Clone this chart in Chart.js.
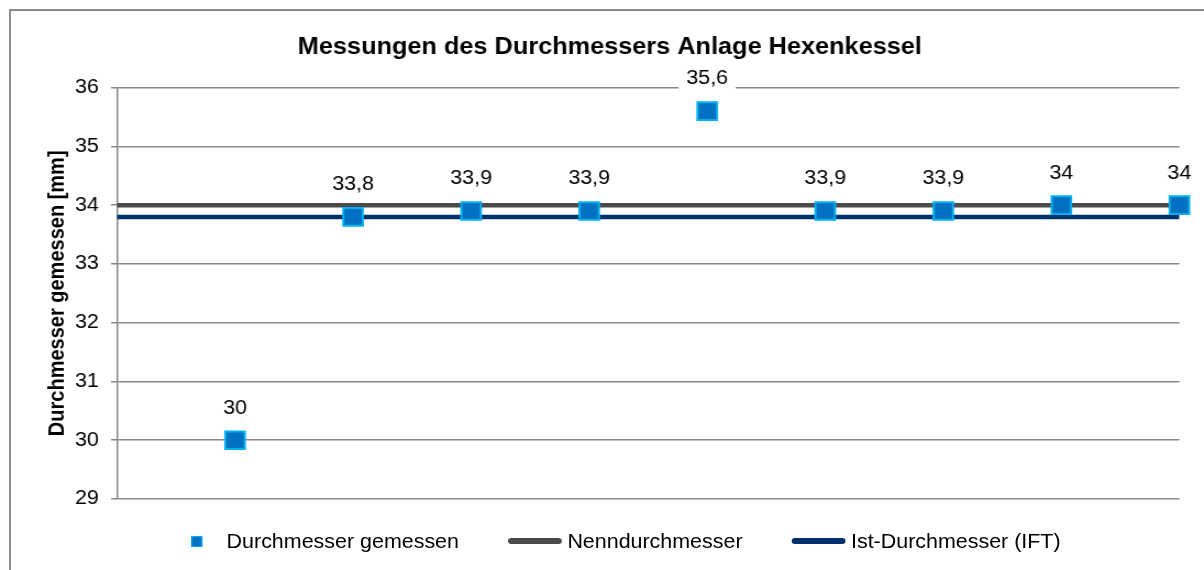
<!DOCTYPE html>
<html lang="de">
<head>
<meta charset="utf-8">
<title>Messungen des Durchmessers Anlage Hexenkessel</title>
<script src="https://cdn.jsdelivr.net/npm/chart.js@4.4.1/dist/chart.umd.min.js"></script>
<style>
  html, body { margin: 0; padding: 0; background: #fff; overflow: hidden; }
  body { width: 1204px; height: 570px; position: relative; font-family: "Liberation Sans", Arial, sans-serif; }
  .frame { position: absolute; left: 9px; top: 9px; width: 1300px; height: 700px; border: 2px solid #8c8c8c; box-sizing: border-box; z-index: 2; }
  /* the original picture is a bit wider than tall, so the whole chart is stretched sideways */
  .stretch { position: absolute; left: 0; top: 0; width: 1095px; height: 570px; transform: scaleX(1.0995); transform-origin: 0 0; }
  .stretch canvas { display: block; }
  .legend { position: absolute; left: 173.6px; top: 529px; height: 24px; display: flex; align-items: center; font-size: 19.5px; line-height: 24px; color: #000; white-space: nowrap; }
  .legend .item { display: flex; align-items: center; }
  .legend .item + .item { margin-left: 45px; }
  .legend .marker { width: 8px; height: 9px; border: 1.5px solid #00b0f0; background: #0070c0; margin-right: 22.5px; }
  .legend .line { width: 49px; height: 6px; border-radius: 3px; margin-right: 4.6px; }
</style>
</head>
<body>
<div class="frame"></div>
<div class="stretch">
  <canvas id="diameterChart"></canvas>
  <div class="legend" id="legend"></div>
</div>
<script>
// Messpunkte (Kategorie 1..9) und Referenzlinien
const categories = [1, 2, 3, 4, 5, 6, 7, 8, 9];
const measured = [30, 33.8, 33.9, 33.9, 35.6, 33.9, 33.9, 34, 34];
const lineSpan = [0, 9];
const nominal = [34, 34];
const actual = [33.8, 33.8];
const yMin = 29;
const yMax = 36;
const yStep = 1;

const seriesLabels = ["Durchmesser gemessen", "Nenndurchmesser", "Ist-Durchmesser (IFT)"];

Chart.defaults.font.family = '"Liberation Sans", Arial, sans-serif';
Chart.defaults.color = "#000";

// values above the markers, with a white box behind them
const valueLabels = {
  id: "valueLabels",
  afterDatasetsDraw(chart) {
    const ctx = chart.ctx;
    const meta = chart.getDatasetMeta(0);
    ctx.save();
    ctx.font = '19.5px "Liberation Sans", Arial, sans-serif';
    ctx.textAlign = "center";
    ctx.textBaseline = "middle";
    meta.data.forEach((pt, i) => {
      const text = measured[i].toLocaleString("de-DE");
      const w = ctx.measureText(text).width + 14;
      const y = pt.y - 32;
      ctx.fillStyle = "#fff";
      ctx.fillRect(pt.x - w / 2, y - 11, w, 22);
      ctx.fillStyle = "#000";
      ctx.fillText(text, pt.x, y);
    });
    ctx.restore();
  }
};

let chart;
function initChart() {
  const ctx = document.getElementById("diameterChart").getContext("2d");
  chart = new Chart(ctx, {
    type: "scatter",
    data: {
      datasets: [
        {
          label: seriesLabels[0],
          data: categories.map((x, i) => ({ x: x, y: measured[i] })),
          pointStyle: "rect",
          pointRadius: 12.5,
          pointBackgroundColor: "#0070c0",
          pointBorderColor: "#00b0f0",
          pointBorderWidth: 2,
          showLine: false,
          clip: false
        },
        {
          label: seriesLabels[1],
          data: lineSpan.map((x, i) => ({ x: x, y: nominal[i] })),
          showLine: true,
          borderColor: "#4a4a4a",
          borderWidth: 4.5,
          pointRadius: 0
        },
        {
          label: seriesLabels[2],
          data: lineSpan.map((x, i) => ({ x: x, y: actual[i] })),
          showLine: true,
          borderColor: "#00306e",
          borderWidth: 4.5,
          pointRadius: 0
        }
      ]
    },
    options: {
      responsive: true,
      maintainAspectRatio: false,
      animation: false,
      events: [],
      layout: { padding: { left: 36.6, right: 22.3, top: 0, bottom: 71 } },
      plugins: {
        legend: { display: false },
        tooltip: { enabled: false },
        title: {
          display: true,
          text: "Messungen des Durchmessers Anlage Hexenkessel",
          color: "#000",
          font: { size: 23, weight: "bold" },
          padding: { top: 34, bottom: 26 }
        }
      },
      scales: {
        x: { type: "linear", min: lineSpan[0], max: lineSpan[1], display: false },
        y: {
          min: yMin,
          max: yMax,
          ticks: { stepSize: yStep, color: "#000", font: { size: 19.5 }, padding: 11 },
          grid: { color: "#878787", lineWidth: 1.5, tickLength: 5.5 },
          border: { color: "#878787", width: 1.5 },
          title: {
            display: true,
            text: "Durchmesser gemessen [mm]",
            color: "#000",
            font: { size: 20, weight: "bold" },
            padding: { top: 4, bottom: 4 }
          },
          afterFit(scale) { scale.width = 69.8; }
        }
      }
    },
    plugins: [valueLabels]
  });
}

// legend below the plot, built from the datasets
function buildLegend() {
  const box = document.getElementById("legend");
  chart.data.datasets.forEach((ds, i) => {
    const item = document.createElement("span");
    item.className = "item";
    const sym = document.createElement("span");
    if (i === 0) {
      sym.className = "marker";
    } else {
      sym.className = "line";
      sym.style.background = ds.borderColor;
    }
    const txt = document.createElement("span");
    txt.textContent = ds.label;
    item.appendChild(sym);
    item.appendChild(txt);
    box.appendChild(item);
  });
}

initChart();
buildLegend();
</script>
</body>
</html>
